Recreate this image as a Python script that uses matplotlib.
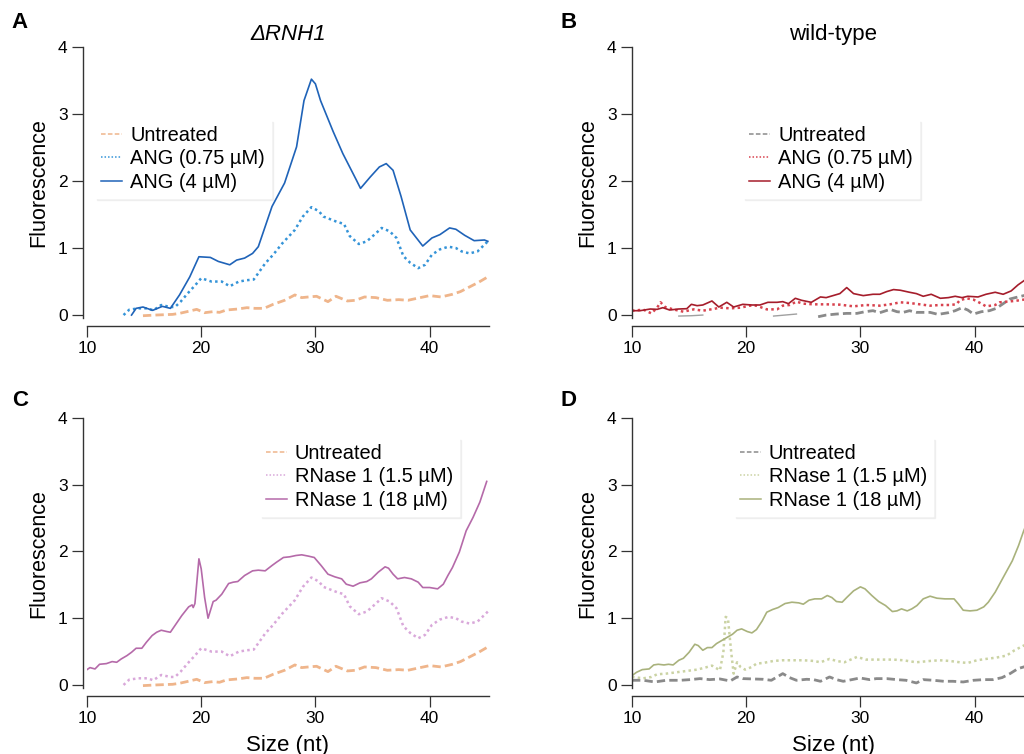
import matplotlib
matplotlib.use("Agg")
import matplotlib.pyplot as plt

plt.rcParams['font.family'] = ['Liberation Sans', 'DejaVu Sans']

# ---- panel A / C shared: untreated (mutant) ----
untr_mut_x = [14.9, 16.0, 17.5, 18.1, 19.0, 19.6, 20.3, 21.0, 21.6, 22.2, 23.2, 24.0, 24.7, 25.5,
              26.3, 27.3, 28.2, 28.8, 29.4, 30.1, 30.6, 31.1, 31.8, 32.8, 33.5, 34.3, 35.3, 36.3,
              37.3, 38.1, 38.9, 40.0, 41.0, 42.0, 42.7, 43.5, 44.3, 45.1]
untr_mut_y = [-0.01, 0.0, 0.01, 0.025, 0.06, 0.085, 0.035, 0.05, 0.04, 0.075, 0.09, 0.11, 0.1, 0.1,
              0.16, 0.22, 0.30, 0.26, 0.27, 0.28, 0.24, 0.20, 0.28, 0.21, 0.22, 0.27, 0.26, 0.22,
              0.23, 0.22, 0.25, 0.29, 0.27, 0.31, 0.35, 0.42, 0.49, 0.57]

# ANG 0.75 uM (A) / RNase 1 1.5 uM (C) -- same trace
low_mut_x = [13.2, 13.7, 14.5, 15.3, 15.8, 16.5, 17.3, 17.7, 18.2, 18.8, 19.5, 20.0, 20.9, 21.8,
             22.5, 23.3, 24.0, 24.6, 25.6, 26.3, 27.1, 28.2, 28.9, 29.65, 30.3, 30.7, 31.9, 32.5,
             33.0, 33.8, 34.5, 35.3, 35.8, 36.5, 37.1, 37.7, 38.3, 39.0, 39.6, 40.2, 40.9, 41.65,
             42.3, 42.8, 43.5, 44.2, 44.8, 45.1]
low_mut_y = [0.0, 0.08, 0.1, 0.1, 0.07, 0.15, 0.12, 0.12, 0.2, 0.32, 0.45, 0.55, 0.5, 0.5,
             0.43, 0.5, 0.52, 0.53, 0.77, 0.9, 1.07, 1.27, 1.47, 1.61, 1.55, 1.47, 1.39, 1.36,
             1.18, 1.06, 1.1, 1.22, 1.30, 1.25, 1.15, 0.88, 0.78, 0.70, 0.75, 0.9, 0.98, 1.02,
             1.0, 0.95, 0.92, 0.95, 1.05, 1.1]

# ANG 4 uM (A)
ang_hi_x = [13.9, 14.3, 14.9, 15.75, 16.6, 17.3, 18.1, 19.0, 19.8, 20.8, 21.5, 22.5, 23.1, 23.8,
            24.5, 25.0, 26.2, 27.3, 28.35, 29.0, 29.65, 30.0, 30.45, 31.55, 32.4, 33.6, 33.95,
            34.8, 35.6, 36.2, 36.8, 37.5, 38.3, 39.4, 40.2, 40.9, 41.75, 42.3, 43.07, 43.9, 44.8, 45.1]
ang_hi_y = [0.0, 0.1, 0.12, 0.07, 0.13, 0.1, 0.3, 0.57, 0.87, 0.86, 0.8, 0.75, 0.82, 0.85,
            0.92, 1.02, 1.62, 1.97, 2.51, 3.2, 3.52, 3.45, 3.2, 2.74, 2.41, 2.01, 1.89,
            2.06, 2.21, 2.26, 2.16, 1.77, 1.27, 1.03, 1.15, 1.2, 1.30, 1.28, 1.19, 1.11, 1.12, 1.1]

# RNase 1 18 uM (C)
rn_hi_x = [10.0, 10.26, 10.7, 11.1, 11.7, 12.2, 12.6, 13.0, 13.5, 13.9, 14.3, 14.8, 15.2, 15.7,
           16.1, 16.5, 17.0, 17.3, 17.7, 18.3, 18.9, 19.2, 19.3, 19.45, 19.8, 20.0, 20.3, 20.6,
           21.05, 21.3, 21.8, 22.4, 22.8, 23.2, 23.8, 24.5, 25.0, 25.6, 26.2, 26.6, 27.2, 27.75,
           28.3, 28.8, 29.4, 29.9, 30.5, 31.1, 31.7, 32.3, 32.7, 33.3, 33.9, 34.5, 34.9, 35.5,
           36.1, 36.4, 36.8, 37.2, 37.8, 38.4, 39.0, 39.4, 40.0, 40.7, 41.2, 41.6, 42.0, 42.6,
           43.2, 43.8, 44.4, 45.0]
rn_hi_y = [0.23, 0.26, 0.24, 0.31, 0.32, 0.35, 0.34, 0.39, 0.44, 0.49, 0.55, 0.55, 0.64, 0.74,
           0.79, 0.82, 0.80, 0.79, 0.89, 1.04, 1.17, 1.2, 1.16, 1.22, 1.89, 1.74, 1.31, 1.0,
           1.25, 1.27, 1.36, 1.52, 1.54, 1.55, 1.64, 1.71, 1.72, 1.71, 1.79, 1.84, 1.91, 1.92,
           1.94, 1.95, 1.93, 1.91, 1.79, 1.66, 1.62, 1.59, 1.51, 1.48, 1.53, 1.55, 1.59, 1.69,
           1.77, 1.75, 1.66, 1.59, 1.61, 1.59, 1.54, 1.46, 1.46, 1.44, 1.51, 1.64, 1.76, 1.99,
           2.31, 2.51, 2.74, 3.05]

# ---- panel B (wild-type, ANG) ----
untr_wt_b_x = [26.3, 27.0, 27.9, 28.8, 29.7, 30.4, 31.1, 31.7, 32.6, 33.2, 33.75, 34.3, 34.9, 35.5,
               36.1, 36.8, 37.7, 38.3, 38.9, 39.4, 39.9, 40.6, 41.3, 41.9, 42.5, 43.1, 43.8, 44.3, 45.1]
untr_wt_b_y = [-0.025, 0.0, 0.015, 0.025, 0.025, 0.05, 0.065, 0.035, 0.085, 0.05, 0.04, 0.065, 0.04, 0.04,
               0.04, 0.01, 0.035, 0.065, 0.11, 0.075, 0.015, 0.05, 0.065, 0.1, 0.17, 0.24, 0.27, 0.29, 0.31]
untr_wt_b_seg_x = [14.1, 15.2, 16.2, None, 22.4, 23.4, 24.4]
untr_wt_b_seg_y = [-0.015, -0.01, 0.0, None, -0.015, 0.0, 0.015]

ang_lo_wt_x = [10.0, 11.0, 11.7, 12.2, 12.5, 12.9, 13.6, 14.5, 15.4, 16.2, 17.1, 17.7, 18.6, 19.5,
               20.3, 20.9, 21.8, 22.7, 23.2, 23.8, 24.4, 25.0, 25.9, 27.0, 28.2, 29.4, 30.5, 31.7,
               32.6, 33.5, 34.3, 35.2, 36.1, 37.0, 37.8, 38.4, 38.7, 39.3, 39.9, 40.6, 41.0, 41.8,
               42.2, 42.8, 43.5, 44.3, 45.1]
ang_lo_wt_y = [0.065, 0.08, 0.025, 0.11, 0.19, 0.12, 0.085, 0.05, 0.085, 0.065, 0.09, 0.11, 0.1, 0.11,
               0.14, 0.14, 0.085, 0.085, 0.14, 0.15, 0.2, 0.17, 0.16, 0.16, 0.155, 0.13, 0.15, 0.14,
               0.16, 0.19, 0.18, 0.16, 0.14, 0.15, 0.15, 0.16, 0.22, 0.25, 0.23, 0.17, 0.13, 0.15,
               0.19, 0.2, 0.21, 0.23, 0.25]

ang_hi_wt_x = [10.0, 10.7, 11.6, 12.2, 12.7, 13.3, 14.05, 14.8, 15.2, 15.7, 16.2, 17.0, 17.6, 18.3,
               18.9, 19.7, 20.5, 21.2, 21.9, 22.7, 23.2, 23.7, 24.3, 24.85, 25.7, 26.5, 27.0, 27.6,
               28.2, 28.8, 29.4, 30.25, 31.1, 31.7, 32.3, 32.9, 33.5, 34.3, 34.9, 35.5, 36.2, 37.0,
               37.7, 38.3, 38.9, 39.4, 40.3, 41.0, 41.8, 42.5, 43.2, 43.8, 44.3, 45.1]
ang_hi_wt_y = [0.065, 0.065, 0.09, 0.085, 0.11, 0.075, 0.09, 0.095, 0.16, 0.14, 0.15, 0.21, 0.12, 0.19,
               0.12, 0.16, 0.15, 0.15, 0.19, 0.19, 0.2, 0.17, 0.25, 0.22, 0.19, 0.27, 0.26, 0.29,
               0.32, 0.41, 0.32, 0.29, 0.31, 0.31, 0.35, 0.38, 0.37, 0.34, 0.32, 0.28, 0.31, 0.25,
               0.26, 0.28, 0.26, 0.28, 0.27, 0.31, 0.34, 0.31, 0.36, 0.45, 0.51, 0.62]

# ---- panel D (wild-type, RNase 1) ----
untr_wt_d_x = [10.0, 11.0, 12.0, 13.0, 14.2, 15.1, 15.95, 16.8, 17.7, 18.6, 19.2, 19.7, 20.6, 21.5,
               22.2, 22.8, 23.2, 23.8, 24.4, 25.3, 25.9, 26.5, 27.3, 27.9, 28.5, 29.4, 29.96, 30.8,
               31.4, 32.3, 33.2, 34.0, 34.9, 35.5, 36.4, 37.3, 38.1, 39.0, 39.9, 40.8, 41.6, 42.4,
               43.1, 43.8, 44.3, 45.1]
untr_wt_d_y = [0.07, 0.07, 0.045, 0.07, 0.07, 0.08, 0.095, 0.08, 0.09, 0.06, 0.12, 0.095, 0.09, 0.085,
               0.07, 0.13, 0.17, 0.11, 0.07, 0.085, 0.08, 0.055, 0.12, 0.08, 0.055, 0.085, 0.105, 0.08,
               0.095, 0.095, 0.08, 0.07, 0.03, 0.08, 0.07, 0.055, 0.055, 0.045, 0.07, 0.08, 0.08, 0.11,
               0.17, 0.245, 0.27, 0.31]

rn_lo_wt_x = [10.0, 11.0, 11.7, 12.2, 13.0, 13.9, 14.8, 15.7, 16.4, 17.0, 17.4, 17.7, 18.0, 18.2,
              18.4, 18.7, 18.9, 19.2, 19.5, 19.9, 20.5, 20.9, 21.5, 22.4, 23.2, 24.1, 25.0, 25.9,
              26.5, 27.3, 27.9, 28.6, 29.7, 30.5, 31.7, 32.9, 33.75, 34.9, 36.1, 36.96, 37.8, 38.7,
              39.4, 40.2, 41.0, 41.9, 42.8, 43.5, 44.3, 45.1]
rn_lo_wt_y = [0.12, 0.10, 0.12, 0.16, 0.17, 0.19, 0.21, 0.23, 0.26, 0.29, 0.25, 0.22, 0.49, 1.02,
              1.0, 0.47, 0.17, 0.34, 0.27, 0.23, 0.27, 0.32, 0.33, 0.36, 0.37, 0.37, 0.37, 0.36,
              0.34, 0.39, 0.36, 0.34, 0.42, 0.38, 0.38, 0.38, 0.37, 0.34, 0.36, 0.37, 0.36, 0.34,
              0.33, 0.37, 0.39, 0.41, 0.44, 0.52, 0.59, 0.64]

rn_hi_wt_x = [10.0, 10.4, 10.9, 11.5, 11.9, 12.3, 12.8, 13.2, 13.6, 14.1, 14.5, 15.0, 15.5, 15.8,
              16.2, 16.6, 17.0, 17.4, 17.9, 18.3, 18.8, 19.2, 19.6, 20.1, 20.5, 20.9, 21.4, 21.8,
              22.3, 22.8, 23.4, 24.0, 24.6, 25.0, 25.5, 26.0, 26.6, 27.1, 27.5, 27.9, 28.4, 28.8,
              29.4, 30.0, 30.4, 31.0, 31.6, 32.2, 32.8, 33.2, 33.6, 34.1, 34.5, 34.95, 35.5, 36.1,
              36.7, 37.4, 38.2, 38.6, 39.0, 39.6, 40.2, 40.8, 41.2, 41.8, 42.5, 43.3, 43.85, 44.3, 45.1]
rn_hi_wt_y = [0.14, 0.19, 0.23, 0.24, 0.30, 0.31, 0.30, 0.31, 0.30, 0.37, 0.40, 0.49, 0.61, 0.59,
              0.52, 0.56, 0.56, 0.62, 0.67, 0.71, 0.76, 0.82, 0.84, 0.80, 0.78, 0.83, 0.96, 1.09,
              1.13, 1.16, 1.22, 1.24, 1.23, 1.21, 1.27, 1.29, 1.29, 1.34, 1.31, 1.25, 1.24, 1.31,
              1.41, 1.47, 1.44, 1.34, 1.25, 1.19, 1.10, 1.11, 1.14, 1.11, 1.14, 1.19, 1.29, 1.33,
              1.30, 1.29, 1.29, 1.21, 1.12, 1.11, 1.12, 1.17, 1.24, 1.39, 1.61, 1.86, 2.09, 2.31, 2.65]

labels_ang = ['Untreated', 'ANG (0.75 µM)', 'ANG (4 µM)']
labels_rn = ['Untreated', 'RNase 1 (1.5 µM)', 'RNase 1 (18 µM)']

W, H = 1024, 754
fig = plt.figure(figsize=(W / 100, H / 100), dpi=100)

AX_W = 402 / W


def make_axes(left_px, top_px, bottom_px, left_out):
    ax = fig.add_axes([left_px / W, 1 - bottom_px / H, AX_W, (bottom_px - top_px) / H])
    ax.set_xlim(10, 45.2)
    ax.set_ylim(-0.05, 4)
    for s in ['top', 'right']:
        ax.spines[s].set_visible(False)
    ax.spines['left'].set_position(('outward', left_out))
    ax.spines['bottom'].set_position(('outward', 5.5))
    for s in ['left', 'bottom']:
        ax.spines[s].set_linewidth(1.0)
        ax.spines[s].set_color('#333333')
    ax.set_xticks([10, 20, 30, 40])
    ax.set_yticks([0, 1, 2, 3, 4])
    ax.tick_params(direction='out', length=8, width=0.9, color='#333333',
                   labelsize=12.5, pad=3)
    ax.set_ylabel('Fluorescence', fontsize=15.5, labelpad=6)
    return ax


def add_legend(ax, x_px, y_px):
    leg = ax.legend(loc='upper left', bbox_to_anchor=(x_px / W, 1 - y_px / H),
                    bbox_transform=fig.transFigure, borderaxespad=0, fontsize=14.4,
                    frameon=True, fancybox=False, framealpha=1, edgecolor='white',
                    shadow={'color': '#b0b0b0', 'alpha': 0.15, 'ox': 1.5, 'oy': -1.5},
                    handlelength=1.05, handletextpad=0.4, labelspacing=0.22, borderpad=0.3)
    for ln in leg.get_lines():
        ln.set_linewidth(1.1)
    return leg


peach = '#efb58b'
gray = '#8a8a8a'

# A
axA = make_axes(87, 47, 318.4, 3)
axA.plot(untr_mut_x, untr_mut_y, ls=(0, (3, 1.5)), lw=2.0, color=peach, label=labels_ang[0])
axA.plot(low_mut_x, low_mut_y, ls=(0, (1, 1.3)), lw=1.8, color='#3594d8', label=labels_ang[1])
axA.plot(ang_hi_x, ang_hi_y, ls='-', lw=1.2, color='#1f63b8', label=labels_ang[2])
axA.set_title('ΔRNH1', fontsize=16, fontstyle='italic', pad=5)
add_legend(axA, 95, 120)

# B
axB = make_axes(632, 47, 318.4, 0)
axB.plot(untr_wt_b_x, untr_wt_b_y, ls=(0, (3, 1.5)), lw=2.0, color=gray, label=labels_ang[0])
axB.plot(ang_lo_wt_x, ang_lo_wt_y, ls=(0, (1, 1.3)), lw=1.8, color='#d8434f', label=labels_ang[1])
axB.plot(ang_hi_wt_x, ang_hi_wt_y, ls='-', lw=1.2, color='#a51d2b', label=labels_ang[2])
axB.plot([v if v is not None else float('nan') for v in untr_wt_b_seg_x],
         [v if v is not None else float('nan') for v in untr_wt_b_seg_y],
         ls='-', lw=1.0, color='#a0a0a0')
axB.set_title('wild-type', fontsize=16, pad=5)
add_legend(axB, 743, 120)

# C
axC = make_axes(87, 418, 688.3, 3)
axC.plot(untr_mut_x, untr_mut_y, ls=(0, (3, 1.5)), lw=2.0, color=peach, label=labels_rn[0])
axC.plot(low_mut_x, low_mut_y, ls=(0, (1, 1.3)), lw=1.8, color='#d9a8da', label=labels_rn[1])
axC.plot(rn_hi_x, rn_hi_y, ls='-', lw=1.2, color='#b56aa9', label=labels_rn[2])
axC.set_xlabel('Size (nt)', fontsize=16, labelpad=6)
add_legend(axC, 260, 438)

# D
axD = make_axes(632, 418, 688.3, 0)
axD.plot(untr_wt_d_x, untr_wt_d_y, ls=(0, (3, 1.5)), lw=2.0, color=gray, label=labels_rn[0])
axD.plot(rn_lo_wt_x, rn_lo_wt_y, ls=(0, (1, 1.3)), lw=1.8, color='#cbd3a4', label=labels_rn[1])
axD.plot(rn_hi_wt_x, rn_hi_wt_y, ls='-', lw=1.2, color='#a9b27c', label=labels_rn[2])
axD.set_xlabel('Size (nt)', fontsize=16, labelpad=6)
add_legend(axD, 734, 438)

# panel letters
for letter, xp, yp in [('A', 20, 23), ('B', 569, 23), ('C', 20, 400), ('D', 569, 400)]:
    fig.text(xp / W, 1 - yp / H, letter, fontsize=16, fontweight='bold', ha='center', va='center')

fig.savefig('out.png', dpi=100)
